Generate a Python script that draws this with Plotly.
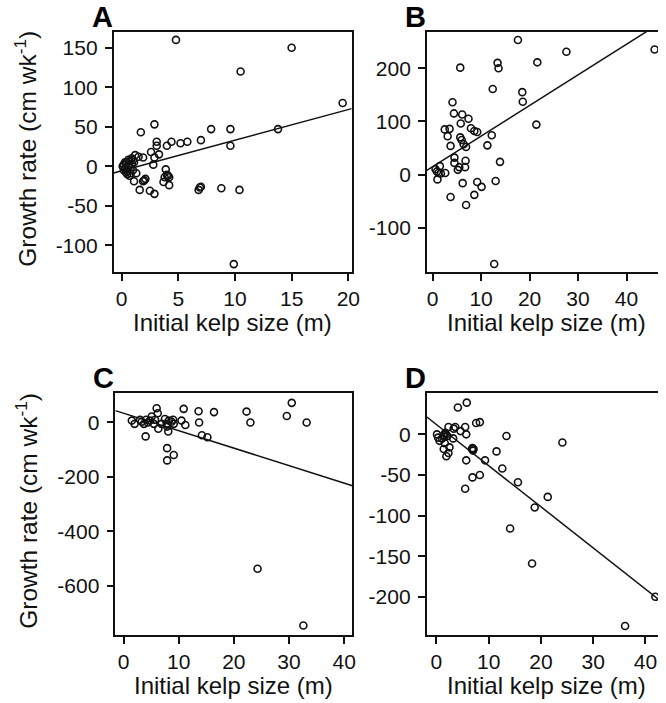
import plotly.graph_objects as go

# Panel A: initial kelp size (m) vs growth rate (cm per week)
a_x = [4.8, 15.0, 10.5, 2.9, 1.7, 7.9, 9.6, 13.8, 9.6, 7.0, 5.8, 5.2, 4.4, 4.0, 3.1, 3.1,
       3.3, 2.6, 2.8, 2.9, 1.9, 1.5, 1.2, 1.0, 1.3, 1.1, 2.0, 1.9, 2.1, 1.6, 2.5, 2.9, 3.9,
       4.0, 4.2, 3.8, 4.1, 3.7, 4.2, 6.9, 6.8, 7.0, 8.8, 10.4, 9.9, 19.5,
       0.1, 0.2, 0.3, 0.4, 0.5, 0.6, 0.7, 0.8, 0.9, 0.5, 0.7, 0.3, 1.0, 0.2, 0.6, 0.9, 1.1,
       0.4, 0.8]
a_y = [160, 150, 120, 53, 43, 47, 47, 47, 26, 33, 31, 29, 31, 26, 31, 26,
       15, 18, 2, 11, 11, 12, 14, 8, -9, -19, -18, -19, -16, -30, -31, -35, -4,
       -11, -14, -14, -12, -20, -24, -27, -30, -26, -28, -30, -124, 80,
       0, 2, -3, 4, -6, 1, 6, -2, 3, -10, -12, 5, -5, -5, 8, 10, 5,
       -8, -9]
a_fit = (-5.8, 3.88)

# Panel B
b_x = [17.6, 27.6, 45.8, 5.7, 13.4, 13.6, 21.6, 12.4, 18.5, 18.6, 21.4, 4.1, 4.4, 6.1,
       7.4, 5.8, 2.5, 3.5, 3.1, 7.9, 8.6, 9.2, 5.7, 6.0, 6.4, 6.9, 3.7, 12.2, 11.3, 4.5,
       4.5, 6.8, 6.7, 5.2, 5.5, 13.9, 1.5, 0.6, 1.2, 1.7, 2.6, 1.0, 6.2, 9.2, 10.1, 13.0,
       8.6, 3.7, 6.9, 12.7, 0.9]
b_y = [253, 231, 235, 201, 210, 200, 211, 161, 155, 137, 94, 136, 115, 113,
       105, 96, 85, 86, 72, 87, 82, 80, 70, 65, 57, 52, 54, 74, 55, 32,
       22, 26, 14, 9, 14, 24, 16, 10, 3, 2, 3, -9, -16, -14, -23, -12,
       -38, -42, -57, -168, 6]
b_fit = (15.0, 5.75)

# Panel C
c_x = [1.5, 2.0, 3.0, 3.3, 3.7, 4.1, 4.4, 4.0, 4.8, 5.1, 5.7, 5.5, 6.0, 6.2, 6.3, 6.9,
       7.5, 7.8, 7.9, 8.1, 8.2, 8.7, 9.0, 9.1, 7.9, 7.9, 9.1, 10.5, 10.9, 11.2, 13.6, 13.7,
       14.2, 15.2, 16.4, 22.3, 23.0, 29.6, 30.5, 33.2, 24.3, 32.6]
c_y = [6, -6, 9, 2, -6, 9, -1, -52, 6, 21, 9, -6, 51, 33, -24, -6,
       12, -6, -16, -34, 6, 2, 9, -6, -95, -140, -120, 6, 49, -10, 40, -1,
       -48, -55, 37, 39, -1, 23, 71, -1, -537, -745]
c_fit = (33.0, -6.4)

# Panel D
d_x = [4.1, 5.8, 7.6, 8.3, 0.1, 0.3, 0.6, 1.1, 1.4, 1.7, 2.1, 2.3, 3.3, 3.6, 3.2, 4.6,
       5.5, 5.7, 1.4, 1.9, 2.3, 2.5, 1.6, 6.8, 7.1, 5.7, 5.5, 6.9, 8.3, 9.3, 11.5, 12.6,
       13.4, 15.6, 14.1, 18.8, 18.3, 21.3, 24.1, 36.1, 41.9, 1.5, 1.8, 6.9, 7.0]
d_y = [33, 39, 14, 15, 0, -4, -8, -5, -1, 2, -2, 9, 7, 9, -5, 4,
       9, 0, -18, -27, -23, -16, -11, -18, -18, -32, -67, -53, -50, -32, -21, -42,
       -2, -59, -116, -90, -159, -77, -10, -236, -200, -3, 0, -17, -20]
d_fit = (12.0, -5.06)

x_range = {"A": [-0.7, 20.3], "B": [-1.2, 46.5], "C": [-1.5, 41.5], "D": [-1.9, 42.4]}
y_range = {"A": [-134, 170], "B": [-183, 268], "C": [-780, 106], "D": [-247, 50.5]}
x_ticks = {"A": [0, 5, 10, 15, 20], "B": [0, 10, 20, 30, 40],
           "C": [0, 10, 20, 30, 40], "D": [0, 10, 20, 30, 40]}
y_ticks = {"A": [-100, -50, 0, 50, 100, 150], "B": [-100, 0, 100, 200],
           "C": [-600, -400, -200, 0], "D": [-200, -150, -100, -50, 0]}

W, H = 666, 703
FONT = "Liberation Sans, Arial, sans-serif"
INK = "#111111"

# plot frames in pixels: left, top, right, bottom
frames = {"A": (115, 32, 356, 272), "B": (432, 32, 666, 272),
          "C": (116.7, 393.3, 356.7, 635), "D": (431.7, 393.3, 666, 635)}

panels = [("A", a_x, a_y, a_fit), ("B", b_x, b_y, b_fit),
          ("C", c_x, c_y, c_fit), ("D", d_x, d_y, d_fit)]

fig = go.Figure()
layout = {}
annotations = []
for i, (name, xs, ys, fit) in enumerate(panels):
    n = "" if i == 0 else str(i + 1)
    xa, ya = "x" + n, "y" + n
    l, t, r, b = frames[name]
    left_panel = name in ("A", "C")
    fig.add_trace(go.Scatter(
        x=xs, y=ys, mode="markers", xaxis=xa, yaxis=ya, showlegend=False,
        marker=dict(symbol="circle-open", size=7, color=INK, line=dict(width=1.6)),
    ))
    x0, x1 = x_range[name]
    fig.add_trace(go.Scatter(
        x=[x0, x1], y=[fit[0] + fit[1] * x0, fit[0] + fit[1] * x1],
        mode="lines", xaxis=xa, yaxis=ya, showlegend=False,
        line=dict(color=INK, width=1.5),
    ))
    axis_common = dict(showline=True, linecolor=INK, linewidth=1.5, ticks="outside",
                       ticklen=7, tickwidth=1.5, tickcolor=INK, showgrid=False,
                       zeroline=False, tickfont=dict(family=FONT, size=21, color=INK))
    layout["xaxis" + n] = dict(domain=[l / W, r / W], range=x_range[name],
                               tickvals=x_ticks[name],
                               ticktext=[str(v) for v in x_ticks[name]],
                               anchor=ya, mirror=True, **axis_common)
    layout["yaxis" + n] = dict(domain=[1 - b / H, 1 - t / H], range=y_range[name],
                               tickvals=y_ticks[name],
                               ticktext=[str(v) for v in y_ticks[name]],
                               ticklabelstandoff=3, anchor=xa,
                               mirror=True if left_panel else False, **axis_common)
    # panel letter
    annotations.append(dict(text="<b>%s</b>" % name, x=(l + 1) / W, y=1 - (t + 3) / H,
                            xref="paper", yref="paper", xanchor="right", yanchor="bottom",
                            showarrow=False, font=dict(family=FONT, size=29, color="black")))
    # x axis title
    cx = (l + r) / 2 if left_panel else 553.5
    annotations.append(dict(text="Initial kelp size (m)", x=cx / W, y=1 - (b + 35) / H,
                            xref="paper", yref="paper", xanchor="center", yanchor="top",
                            showarrow=False, font=dict(family=FONT, size=24, color=INK)))
    if left_panel:
        annotations.append(dict(text="Growth rate (cm wk<sup>-1</sup>)", x=26 / W,
                                y=1 - ((t + b) / 2 - 3) / H, xref="paper", yref="paper",
                                xanchor="center", yanchor="middle", textangle=-90,
                                showarrow=False,
                                font=dict(family=FONT, size=24.5, color=INK)))

fig.update_layout(width=W, height=H, margin=dict(l=0, r=0, t=0, b=0),
                  paper_bgcolor="white", plot_bgcolor="white",
                  annotations=annotations, **layout)
fig.write_html("out.html")
